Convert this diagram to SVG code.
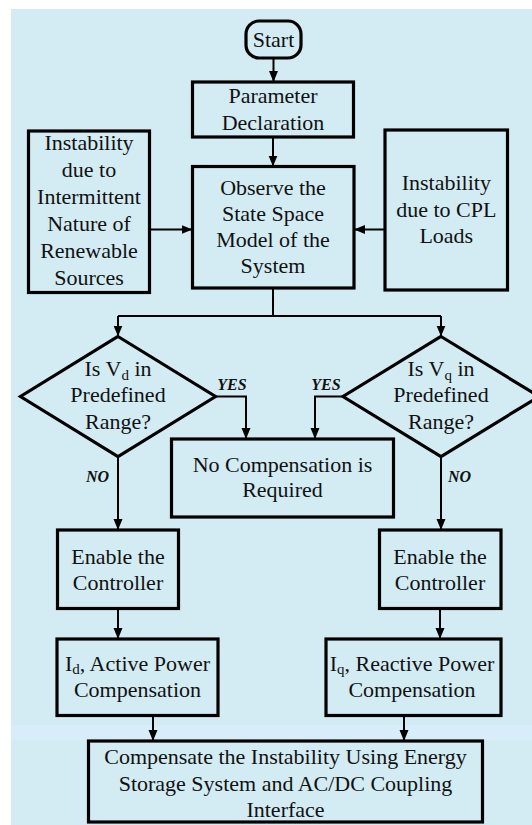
<svg xmlns="http://www.w3.org/2000/svg" width="532" height="825" viewBox="0 0 532 825">
<style>
.bx{fill:none;stroke:#000;stroke-width:3.2;stroke-linejoin:miter}
.cn{fill:none;stroke:#000;stroke-width:2}
.t{font-family:'Liberation Serif','DejaVu Serif',serif;font-size:22px;fill:#111;text-anchor:middle}
.lb{font-family:'Liberation Serif','DejaVu Serif',serif;font-size:16px;font-weight:bold;font-style:italic;fill:#111;text-anchor:middle}
</style>
<defs>
<marker id="ah" markerUnits="userSpaceOnUse" markerWidth="11" markerHeight="10" refX="11" refY="5" orient="auto">
<path d="M0,0.5 L11,5 L0,9.5 z" fill="#000"/>
</marker>
</defs>
<rect x="0" y="0" width="532" height="825" fill="#ffffff"/>
<rect x="11" y="9" width="521" height="816" fill="#d3ecf3"/>
<rect x="11" y="725" width="521" height="15" fill="#d7eefa"/>

<g id="connectors">
<path class="cn" d="M273.5,58 V82" marker-end="url(#ah)"/>
<path class="cn" d="M273,137 V166.5" marker-end="url(#ah)"/>
<path class="cn" d="M149.5,229.5 H192.5" marker-end="url(#ah)"/>
<path class="cn" d="M385,229.5 H354" marker-end="url(#ah)"/>
<path class="cn" d="M273,288 V316"/>
<path class="cn" d="M118,316 H441"/>
<path class="cn" d="M118,316 V336.5" marker-end="url(#ah)"/>
<path class="cn" d="M441,316 V336.5" marker-end="url(#ah)"/>
<path class="cn" d="M215.5,396.5 H246 V439" marker-end="url(#ah)"/>
<path class="cn" d="M343,396.5 H315 V439" marker-end="url(#ah)"/>
<path class="cn" d="M118,456.5 V530" marker-end="url(#ah)"/>
<path class="cn" d="M441,456.5 V530" marker-end="url(#ah)"/>
<path class="cn" d="M118,608.5 V639" marker-end="url(#ah)"/>
<path class="cn" d="M440,608.5 V639" marker-end="url(#ah)"/>
<path class="cn" d="M153,715.5 V741" marker-end="url(#ah)"/>
<path class="cn" d="M404,715.5 V741" marker-end="url(#ah)"/>
<text class="lb" x="232" y="390">YES</text>
<text class="lb" x="326" y="390">YES</text>
<text class="lb" x="97.5" y="482">NO</text>
<text class="lb" x="459.5" y="482">NO</text>
</g>

<g id="start">
<rect class="bx" x="246" y="21" width="55" height="37" rx="13"/>
<text class="t" x="273.5" y="46.5">Start</text>
</g>

<g id="param">
<rect class="bx" x="192.5" y="82" width="161" height="55"/>
<text class="t" x="273" y="103">Parameter</text>
<text class="t" x="273" y="130">Declaration</text>
</g>

<g id="renewable">
<rect class="bx" x="28.5" y="131" width="121" height="161.5"/>
<text class="t" x="89" y="150">Instability</text>
<text class="t" x="89" y="177">due to</text>
<text class="t" x="89" y="204">Intermittent</text>
<text class="t" x="89" y="231">Nature of</text>
<text class="t" x="89" y="258">Renewable</text>
<text class="t" x="89" y="285">Sources</text>
</g>

<g id="observe">
<rect class="bx" x="192.5" y="166.5" width="161.5" height="121.5"/>
<text class="t" x="273" y="195">Observe the</text>
<text class="t" x="273" y="221">State Space</text>
<text class="t" x="273" y="247">Model of the</text>
<text class="t" x="273" y="272.5">System</text>
</g>

<g id="cpl">
<rect class="bx" x="385" y="130" width="122.5" height="160"/>
<text class="t" x="446.3" y="190">Instability</text>
<text class="t" x="446.3" y="216.5">due to CPL</text>
<text class="t" x="446.3" y="242.5">Loads</text>
</g>

<g id="vd-check">
<polygon class="bx" points="118,336.5 215.5,396.5 118,456.5 20.5,396.5"/>
<text class="t" x="118" y="376">Is V<tspan font-size="15" dy="4">d</tspan><tspan dy="-4"> in</tspan></text>
<text class="t" x="118" y="402">Predefined</text>
<text class="t" x="118" y="428.5">Range?</text>
</g>

<g id="vq-check">
<polygon class="bx" points="441,336.5 539,396.5 441,456.5 343,396.5"/>
<text class="t" x="441" y="376">Is V<tspan font-size="15" dy="4">q</tspan><tspan dy="-4"> in</tspan></text>
<text class="t" x="441" y="402">Predefined</text>
<text class="t" x="441" y="428.5">Range?</text>
</g>

<g id="no-comp">
<rect class="bx" x="171.5" y="439" width="222" height="78"/>
<text class="t" x="282.5" y="471.5">No Compensation is</text>
<text class="t" x="282.5" y="497">Required</text>
</g>

<g id="enable-d">
<rect class="bx" x="57.5" y="530" width="121" height="78.5"/>
<text class="t" x="118" y="564">Enable the</text>
<text class="t" x="118" y="590">Controller</text>
</g>

<g id="enable-q">
<rect class="bx" x="379.5" y="530" width="121.5" height="78.5"/>
<text class="t" x="440" y="564">Enable the</text>
<text class="t" x="440" y="590">Controller</text>
</g>

<g id="id-comp">
<rect class="bx" x="57" y="639" width="161" height="76.5"/>
<text class="t" x="137.5" y="671">I<tspan font-size="15" dy="3">d</tspan><tspan dy="-3">, Active Power</tspan></text>
<text class="t" x="137.5" y="697">Compensation</text>
</g>

<g id="iq-comp">
<rect class="bx" x="326" y="639" width="175" height="76.5"/>
<text class="t" x="412" y="671">I<tspan font-size="15" dy="3">q</tspan><tspan dy="-3">, Reactive Power</tspan></text>
<text class="t" x="412" y="697">Compensation</text>
</g>

<g id="compensate">
<rect class="bx" x="88.5" y="741" width="394" height="81"/>
<text class="t" x="285.5" y="764">Compensate the Instability Using Energy</text>
<text class="t" x="285.5" y="790.5">Storage System and AC/DC Coupling</text>
<text class="t" x="285.5" y="817">Interface</text>
</g>
</svg>
